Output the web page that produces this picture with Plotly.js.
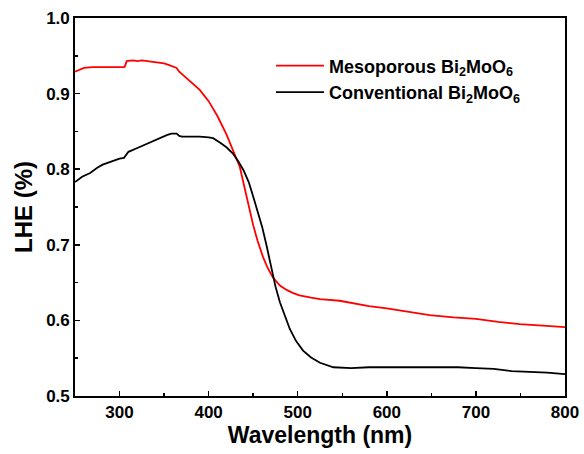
<!DOCTYPE html>
<html>
<head>
<meta charset="utf-8">
<script src="https://cdn.plot.ly/plotly-3.0.1.min.js"></script>
<style>html,body{margin:0;padding:0;background:#fff}#chart{width:584px;height:454px}</style>
</head>
<body>
<div id="chart"></div>
<script>
const seriesNames = ["Mesoporous Bi<sub>2</sub>MoO<sub>6</sub>", "Conventional Bi<sub>2</sub>MoO<sub>6</sub>"];

const mesoWavelength = [250,255,260,270,280,290,300,305,306,308,315,320,325,330,335,340,345,350,355,360,364,367,370,375,380,390,400,410,420,427,435,443,450,455,461,466,472,480,488,495,502,515,525,547,560,580,600,625,648,675,700,725,749,775,800];
const mesoLHE = [0.929,0.932,0.934,0.935,0.935,0.935,0.935,0.935,0.936,0.943,0.944,0.943,0.944,0.943,0.943,0.942,0.941,0.940,0.938,0.936,0.934,0.929,0.926,0.921,0.916,0.905,0.890,0.870,0.846,0.825,0.803,0.762,0.726,0.705,0.684,0.670,0.657,0.646,0.640,0.636,0.633,0.630,0.628,0.626,0.623,0.619,0.616,0.611,0.607,0.604,0.602,0.598,0.595,0.593,0.591];

const convWavelength = [250,258,267,275,281,290,300,305,307,310,320,331,340,347,353,358,364,367,370,380,390,400,405,413,420,427,433,439,445,450,455,460,465,469,475,480,486,491,498,506,515,525,540,560,580,600,640,680,700,720,740,760,780,800];
const convLHE = [0.783,0.790,0.795,0.802,0.806,0.810,0.814,0.815,0.818,0.823,0.828,0.834,0.838,0.842,0.845,0.847,0.847,0.844,0.843,0.843,0.843,0.842,0.841,0.835,0.829,0.821,0.811,0.799,0.783,0.764,0.745,0.724,0.699,0.677,0.645,0.624,0.604,0.589,0.573,0.560,0.551,0.544,0.538,0.537,0.538,0.538,0.538,0.538,0.537,0.536,0.533,0.532,0.531,0.529];

const xTitle = "Wavelength (nm)";
const yTitle = "LHE (%)";

const font = "Arial, 'Liberation Sans', sans-serif";

const traces = [
  {x: mesoWavelength, y: mesoLHE, name: seriesNames[0], type: "scatter", mode: "lines",
   line: {color: "#ff0000", width: 1.8}},
  {x: convWavelength, y: convLHE, name: seriesNames[1], type: "scatter", mode: "lines",
   line: {color: "#000000", width: 1.8}}
];

const axisCommon = {
  showline: true, linecolor: "#000", linewidth: 1.8, mirror: true,
  ticks: "inside", ticklen: 5, tickwidth: 1.5, tickcolor: "#000",
  showgrid: false, zeroline: false,
  tickfont: {family: font, size: 17, color: "#000", weight: "bold"}
};

const layout = {
  width: 584, height: 454,
  margin: {l: 75, r: 19, t: 18, b: 58},
  paper_bgcolor: "#fff", plot_bgcolor: "#fff",
  showlegend: true,
  legend: {x: 0.40, y: 0.922, xanchor: "left", yanchor: "top", bgcolor: "rgba(0,0,0,0)",
    itemwidth: 48,
    font: {family: font, size: 18, color: "#000", weight: "bold"}, tracegroupgap: 0},
  xaxis: Object.assign({}, axisCommon, {
    range: [250, 800], dtick: 100, tick0: 300,
    minor: {dtick: 50, ticks: "inside", ticklen: 3, tickcolor: "#000", tickwidth: 1.5},
    title: {text: xTitle, font: {family: font, size: 23, color: "#000", weight: "bold"}, standoff: 4}
  }),
  yaxis: Object.assign({}, axisCommon, {
    range: [0.5, 1.0], dtick: 0.1, tick0: 0.5, tickformat: ".1f",
    minor: {dtick: 0.05, ticks: "inside", ticklen: 3, tickcolor: "#000", tickwidth: 1.5},
    title: {text: yTitle, font: {family: font, size: 24, color: "#000", weight: "bold"}, standoff: 7}
  })
};

Plotly.newPlot("chart", traces, layout, {displayModeBar: false, staticPlot: true});
</script>
</body>
</html>
